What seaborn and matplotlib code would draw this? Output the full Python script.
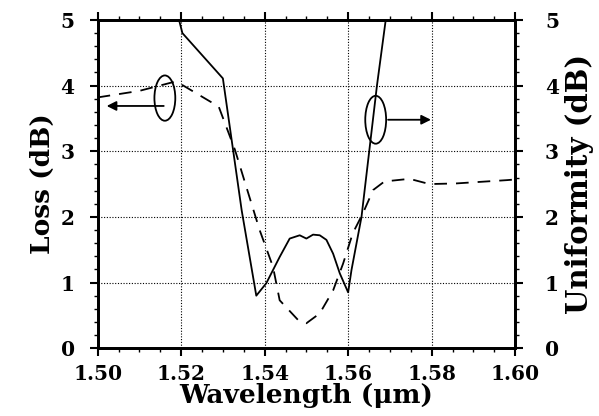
import numpy as np
import pandas as pd
import matplotlib
matplotlib.use("Agg")
import matplotlib.pyplot as plt
from matplotlib.patches import Ellipse
from matplotlib.ticker import MultipleLocator
import seaborn as sns

# Loss (left axis, solid)
loss_wl = [1.5195, 1.5203, 1.5300, 1.5345, 1.5380, 1.5404, 1.5436,
           1.5460, 1.5484, 1.5500, 1.5516, 1.5532, 1.5548, 1.5564, 1.5580, 1.5600,
           1.5608, 1.5632, 1.5669, 1.5690]
loss_db = [5.00, 4.80, 4.11, 2.10, 0.80, 0.99, 1.39,
           1.67, 1.72, 1.67, 1.73, 1.72, 1.65, 1.44, 1.14, 0.85,
           1.19, 2.00, 4.00, 5.00]

# Uniformity (right axis, dashed)
uni_wl = [1.5000, 1.5100, 1.5185, 1.5200, 1.5290, 1.5329, 1.5356, 1.5388, 1.5420,
          1.5436, 1.5480, 1.5500, 1.5532, 1.5564, 1.5588, 1.5611, 1.5635, 1.5660,
          1.5687, 1.5747, 1.5795, 1.5859, 1.5980, 1.6000]
uni_db = [3.82, 3.92, 4.06, 4.02, 3.68, 3.02, 2.46, 1.80, 1.24,
          0.73, 0.43, 0.38, 0.53, 0.88, 1.29, 1.75, 2.05, 2.41,
          2.54, 2.58, 2.50, 2.51, 2.56, 2.57]

x_ticks = [1.50, 1.52, 1.54, 1.56, 1.58, 1.60]
y_ticks = [0, 1, 2, 3, 4, 5]

sns.set_style("ticks")
plt.rcParams['font.family'] = ['DejaVu Serif']
plt.rcParams['font.weight'] = 'bold'
for k in ['text.color', 'axes.labelcolor', 'xtick.color', 'ytick.color', 'axes.edgecolor']:
    plt.rcParams[k] = 'black'

fig = plt.figure(figsize=(5.99, 4.16), dpi=100)
ax = fig.add_axes([0.163, 0.163, 0.697, 0.789])

df_loss = pd.DataFrame({"wl": loss_wl, "db": loss_db})
df_uni = pd.DataFrame({"wl": uni_wl, "db": uni_db})

sns.lineplot(data=df_loss, x="wl", y="db", ax=ax, color="black", lw=1.3,
             estimator=None, sort=False)
ax2 = ax.twinx()
sns.lineplot(data=df_uni, x="wl", y="db", ax=ax2, color="black", lw=1.3,
             estimator=None, sort=False, linestyle=(0, (7, 5)))

for a in (ax, ax2):
    a.set_xlim(1.50, 1.60)
    a.set_ylim(0, 5)
    a.set_yticks(y_ticks)
    a.yaxis.set_minor_locator(MultipleLocator(0.2))
    for s in a.spines.values():
        s.set_linewidth(2.0)
        s.set_visible(True)
    a.tick_params(which='major', length=5.5, width=1.5, direction='out', labelsize=14.5)
    a.tick_params(which='minor', length=3, width=1.0, direction='out')

ax.set_xticks(x_ticks)
ax.set_xticklabels([f"{v:.2f}" for v in x_ticks])
ax.xaxis.set_minor_locator(MultipleLocator(0.005))
ax.tick_params(axis='x', which='both', top=True)
ax.tick_params(axis='x', which='major', pad=6)
ax.tick_params(axis='y', which='major', pad=11)
ax2.tick_params(axis='y', which='major', pad=16)
ax.set_yticklabels([str(v) for v in y_ticks])
ax2.set_yticklabels([str(v) for v in y_ticks])

ax.grid(True, which='major', color='black', linestyle=(0, (1, 1.5)), linewidth=0.8)
ax.set_axisbelow(True)

ax.set_xlabel("Wavelength (μm)", fontsize=19, fontweight='bold', labelpad=-1)
ax.set_ylabel("Loss (dB)", fontsize=19, fontweight='bold', labelpad=4)
ax2.set_ylabel("Uniformity (dB)", fontsize=21, fontweight='bold', labelpad=4)

# annotations
ax.add_patch(Ellipse((1.5161, 3.81), 0.0050, 0.69, fill=False, edgecolor='black', lw=1.3))
ax.annotate("", xy=(1.5015, 3.69), xytext=(1.5165, 3.69),
            arrowprops=dict(arrowstyle="-|>", color='black', lw=1.3, mutation_scale=14))
ax.add_patch(Ellipse((1.5666, 3.48), 0.0050, 0.73, fill=False, edgecolor='black', lw=1.3))
ax.annotate("", xy=(1.5805, 3.48), xytext=(1.5689, 3.48),
            arrowprops=dict(arrowstyle="-|>", color='black', lw=1.3, mutation_scale=14))

fig.savefig("out.png", dpi=100)
